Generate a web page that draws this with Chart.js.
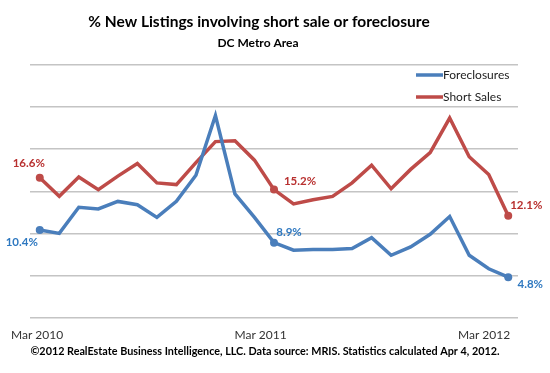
<!DOCTYPE html>
<html>
<head>
<meta charset="utf-8">
<script src="https://cdn.jsdelivr.net/npm/chart.js@4.4.1/dist/chart.umd.min.js"></script>
<style>
  html, body { margin: 0; padding: 0; background: #fff; }
  #wrap { width: 550px; height: 373px; }
</style>
</head>
<body>
<div id="wrap"><canvas id="listingsChart"></canvas></div>
<script>
// months, Mar 2010 .. Mar 2012
const months = [
  "Mar 2010", "Apr 2010", "May 2010", "Jun 2010", "Jul 2010", "Aug 2010", "Sep 2010",
  "Oct 2010", "Nov 2010", "Dec 2010", "Jan 2011", "Feb 2011", "Mar 2011", "Apr 2011",
  "May 2011", "Jun 2011", "Jul 2011", "Aug 2011", "Sep 2011", "Oct 2011", "Nov 2011",
  "Dec 2011", "Jan 2012", "Feb 2012", "Mar 2012"
];
// % of new listings
const foreclosures = [10.4, 10.0, 13.1, 12.9, 13.8, 13.4, 11.9, 13.8, 16.9, 24.0, 14.7, 11.9, 8.9,
  8.0, 8.1, 8.1, 8.2, 9.5, 7.4, 8.4, 9.9, 12.0, 7.4, 5.8, 4.8];
const shortSales = [16.6, 14.4, 16.7, 15.2, 16.8, 18.3, 16.0, 15.8, 18.4, 20.9, 21.0, 18.7, 15.2,
  13.5, 14.0, 14.4, 16.0, 18.1, 15.3, 17.6, 19.6, 23.7, 19.1, 17.0, 12.1];
const tickLabels = ["Mar 2010", "Mar 2011", "Mar 2012"];
const labelledPoints = [0, 12, 24];

const FONT = "Lato, 'Noto Sans', sans-serif";
const BLUE = "#4a7ebb";
const RED = "#be4b48";
const GRID = "#c4c4c4";

// value labels next to the marked points
const pointLabels = {
  id: "pointLabels",
  afterDatasetsDraw(chart, args, opts) {
    const ctx = chart.ctx;
    ctx.save();
    ctx.font = "bold 11.5px " + FONT;
    ctx.textAlign = "center";
    ctx.textBaseline = "middle";
    chart.data.datasets.forEach((ds, di) => {
      const meta = chart.getDatasetMeta(di);
      ctx.fillStyle = opts.colors[di];
      labelledPoints.forEach((idx, k) => {
        const p = meta.data[idx];
        const off = opts.offsets[di][k];
        ctx.fillText(ds.data[idx].toFixed(1) + "%", p.x + off[0], p.y + off[1]);
      });
    });
    ctx.restore();
  }
};

// legend inside the plot, top right
const innerLegend = {
  id: "innerLegend",
  afterDraw(chart) {
    const ctx = chart.ctx;
    const area = chart.chartArea;
    ctx.save();
    ctx.font = "12px " + FONT;
    ctx.textBaseline = "middle";
    chart.data.datasets.forEach((ds, i) => {
      const y = area.top + 10 + i * 22;
      const x = area.right - 102;
      ctx.strokeStyle = ds.borderColor;
      ctx.lineWidth = 3.5;
      ctx.beginPath();
      ctx.moveTo(x, y);
      ctx.lineTo(x + 27, y);
      ctx.stroke();
      ctx.fillStyle = "#222";
      ctx.fillText(ds.label, x + 27, y);
    });
    ctx.restore();
  }
};

// titles on top and source line under the chart
const headerFooter = {
  id: "headerFooter",
  afterDraw(chart) {
    const ctx = chart.ctx;
    ctx.save();
    ctx.fillStyle = "#000";
    ctx.textAlign = "center";
    ctx.textBaseline = "middle";
    ctx.font = "bold 15.5px " + FONT;
    ctx.fillText("% New Listings involving short sale or foreclosure", 259, 22);
    ctx.font = "bold 12px " + FONT;
    ctx.fillText("DC Metro Area", 258, 43);
    ctx.font = "bold 10.8px " + FONT;
    ctx.fillText("©2012 RealEstate Business Intelligence, LLC. Data source: MRIS. Statistics calculated Apr 4, 2012.",
      265, chart.height - 21);
    ctx.restore();
  }
};

const ctx = document.getElementById("listingsChart").getContext("2d");
new Chart(ctx, {
  type: "line",
  data: {
    labels: months,
    datasets: [
      {
        label: "Foreclosures",
        data: foreclosures,
        borderColor: BLUE,
        backgroundColor: BLUE,
        borderWidth: 3.5,
        tension: 0,
        pointRadius: c => labelledPoints.includes(c.dataIndex) ? 4 : 0,
        pointBorderWidth: 0
      },
      {
        label: "Short Sales",
        data: shortSales,
        borderColor: RED,
        backgroundColor: RED,
        borderWidth: 3.5,
        tension: 0,
        pointRadius: c => labelledPoints.includes(c.dataIndex) ? 4 : 0,
        pointBorderWidth: 0
      }
    ]
  },
  options: {
    responsive: true,
    maintainAspectRatio: false,
    animation: false,
    layout: { padding: { left: 30, right: 32, top: 65, bottom: 21 } },
    scales: {
      x: {
        offset: true,
        grid: { display: false, drawTicks: false },
        border: { display: false },
        ticks: { display: false }
      },
      // label axis under the plot, Excel spreads the three labels a bit narrower
      xLabels: {
        type: "linear",
        position: "bottom",
        min: -0.38,
        max: 25.82,
        grid: { display: false, drawTicks: false },
        border: { display: false },
        ticks: {
          stepSize: 12,
          includeBounds: false,
          maxRotation: 0,
          padding: 10,
          color: "#333",
          font: { family: FONT, size: 12 },
          callback: v => tickLabels[v / 12] || ""
        }
      },
      y: {
        min: 0,
        max: 30,
        ticks: { stepSize: 5, display: false },
        border: { display: false },
        grid: { color: GRID, lineWidth: 1.5, drawTicks: false }
      }
    },
    plugins: {
      legend: { display: false },
      tooltip: { enabled: false },
      pointLabels: {
        colors: ["#2e78c0", "#b8302f"],
        offsets: [
          [[-18, 12], [15, -10], [22, 7]],
          [[-11, -15], [26, -8], [18, -10]]
        ]
      }
    }
  },
  plugins: [pointLabels, innerLegend, headerFooter]
});
</script>
</body>
</html>
